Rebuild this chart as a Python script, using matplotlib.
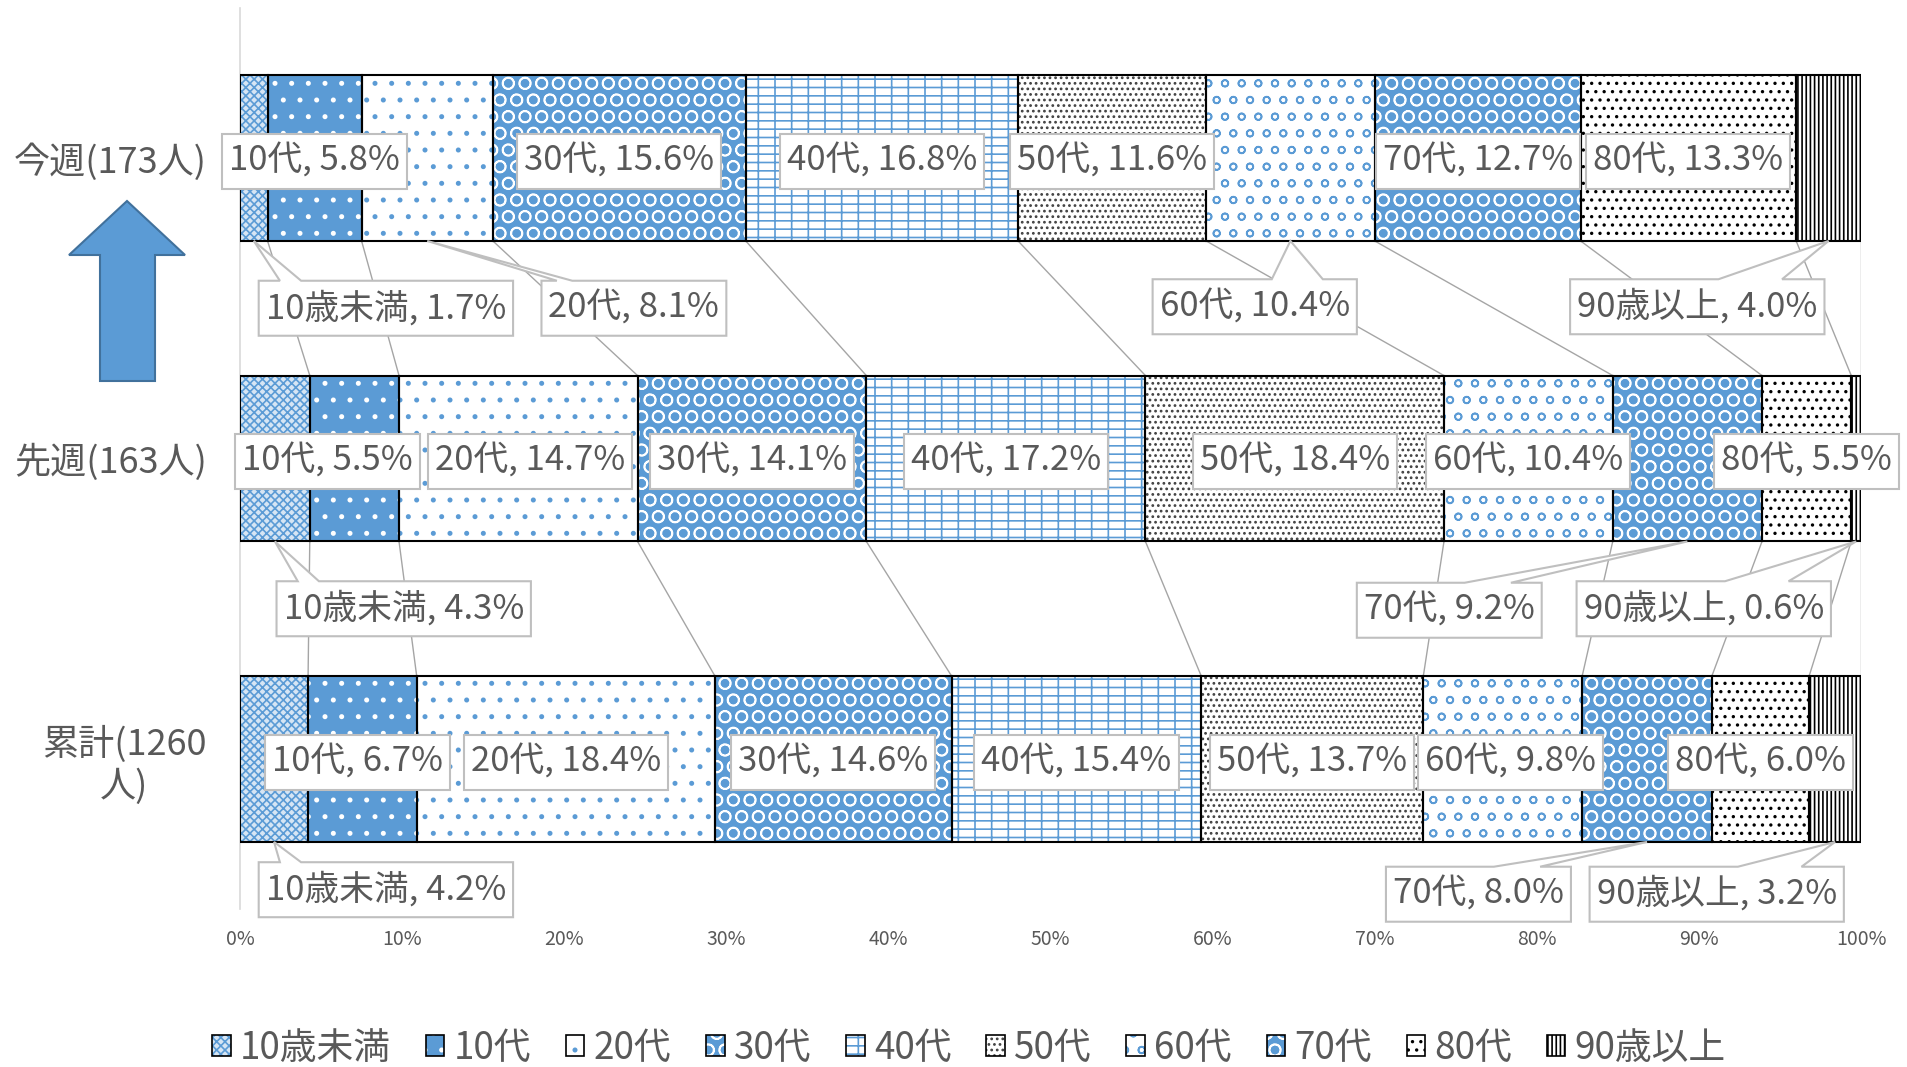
import numpy as np
import matplotlib
matplotlib.use('Agg')
import matplotlib.pyplot as plt
from matplotlib.patches import Polygon, Patch
from matplotlib.legend_handler import HandlerTuple

plt.rcParams['font.family'] = ['Noto Sans CJK JP', 'DejaVu Sans']
plt.rcParams['hatch.linewidth'] = 1.2

# ---------------- data ----------------
rows = ['今週(173人)', '先週(163人)', '累計(1260\n人)']
ages = ['10歳未満', '10代', '20代', '30代', '40代', '50代', '60代', '70代', '80代', '90歳以上']
this_week = [1.7, 5.8, 8.1, 15.6, 16.8, 11.6, 10.4, 12.7, 13.3, 4.0]
last_week = [4.3, 5.5, 14.7, 14.1, 17.2, 18.4, 10.4, 9.2, 5.5, 0.6]
total = [4.2, 6.7, 18.4, 14.6, 15.4, 13.7, 9.8, 8.0, 6.0, 3.2]
x_ticks = [0, 10, 20, 30, 40, 50, 60, 70, 80, 90, 100]

# ---------------- styles ----------------
BLUE = '#5B9BD5'
GRAY_TXT = '#595959'
BOX_EDGE = '#BFBFBF'
LABEL_FS = 25
# (face, hatch, hatch colour) per age group
styles = [
    ('#d6e5f4', 'xxxx', BLUE),
    (BLUE, '.', 'white'),
    ('white', '.', BLUE),
    (BLUE, 'O', 'white'),
    ('white', '--|', BLUE),
    ('white', '...', '#404040'),
    ('white', 'o', BLUE),
    (BLUE, 'O', 'white'),
    ('white', '..', 'black'),
    ('white', '||||', 'black'),
]

# labels that sit outside the bar as callouts: (row, age) -> (x centre in %, offset below bar centre)
callouts = {
    (0, 0): (9.0, 0.49), (0, 2): (24.3, 0.49), (0, 6): (62.6, 0.485), (0, 9): (89.9, 0.485),
    (1, 0): (10.1, 0.49), (1, 7): (74.6, 0.495), (1, 9): (90.3, 0.49),
    (2, 0): (9.0, 0.425), (2, 7): (76.4, 0.44), (2, 9): (91.1, 0.44),
}
# small horizontal nudges for inside labels (in %)
nudges = {(1, 1): -1.65, (1, 2): 0.7, (2, 1): -0.3, (2, 6): 0.5}

W, H = 1907, 1067
fig = plt.figure(figsize=(W / 100, H / 100), dpi=100)
ax = fig.add_axes([240 / W, 1 - 909.25 / H, 1621 / W, 901.5 / H])

shares = np.array([this_week, last_week, total])
norm = shares / shares.sum(axis=1, keepdims=True) * 100
cum = np.hstack([np.zeros((3, 1)), np.cumsum(norm, axis=1)])
ypos = np.arange(3)
bh = 0.552

handles = []
for j, age in enumerate(ages):
    face, hatch, hcol = styles[j]
    ax.barh(ypos, norm[:, j], left=cum[:, j], height=bh, color=face,
            edgecolor=hcol, hatch=hatch, linewidth=0, zorder=2)
    ax.barh(ypos, norm[:, j], left=cum[:, j], height=bh, facecolor='none',
            edgecolor='black', linewidth=1.5, zorder=3)
    handles.append((Patch(facecolor=face, edgecolor=hcol, hatch=hatch, linewidth=0),
                    Patch(facecolor='none', edgecolor='black', linewidth=1.2)))

# series lines between the bars
for g in range(2):
    for j in range(1, 11):
        ax.plot([cum[g, j], cum[g + 1, j]], [g + bh / 2, g + 1 - bh / 2],
                color='#A5A5A5', lw=1.0, zorder=1)

ax.set_xlim(0, 100)
ax.set_ylim(2.5, -0.5)
for s in ['top', 'right', 'bottom']:
    ax.spines[s].set_visible(False)
ax.spines['left'].set_color('#D9D9D9')
ax.spines['left'].set_linewidth(1.2)
ax.set_xticks(x_ticks)
ax.set_xticklabels([f'{v}%' for v in x_ticks], fontsize=14, color=GRAY_TXT)
ax.set_yticks(ypos)
ax.set_yticklabels(rows, fontsize=26, color=GRAY_TXT, multialignment='center')
ax.tick_params(axis='x', length=0, pad=14)
ax.tick_params(axis='y', length=0, pad=24)

# labels
texts = []
for i in range(3):
    for j, age in enumerate(ages):
        label = f'{age}, {shares[i, j]:.1f}%'
        mid = cum[i, j] + norm[i, j] / 2
        if (i, j) in callouts:
            cx, dy = callouts[(i, j)]
            t = ax.text(cx, i + dy, label, ha='center', va='center', fontsize=LABEL_FS,
                        color=GRAY_TXT, zorder=6)
            texts.append((t, (mid, i + bh / 2)))
        else:
            t = ax.text(mid + nudges.get((i, j), 0), i, label, ha='center', va='center',
                        fontsize=LABEL_FS, color=GRAY_TXT, zorder=6)
            texts.append((t, None))

fig.canvas.draw()
renderer = fig.canvas.get_renderer()
padx, boxh = 7, 55
for t, apex in texts:
    bb = t.get_window_extent(renderer)
    cx, cy = (bb.x0 + bb.x1) / 2, (bb.y0 + bb.y1) / 2 - 3
    w = bb.width + 2 * padx
    l, r, b, tp = cx - w / 2, cx + w / 2, cy - boxh / 2, cy + boxh / 2
    pts = [(l, b), (l, tp)]
    if apex is not None:
        axp, ayp = ax.transData.transform(apex)
        f0, f1 = (1 / 12, 2 / 12) if axp < cx else (7 / 12, 10 / 12)
        pts += [(l + f0 * w, tp), (axp, ayp), (l + f1 * w, tp)]
    pts += [(r, tp), (r, b)]
    pts = np.array(pts) / [W, H]
    fig.add_artist(Polygon(pts, closed=True, facecolor='white', edgecolor=BOX_EDGE,
                           linewidth=1.5, transform=fig.transFigure, zorder=5))
    # keep the text above the box
    t.remove()
    fig.text(cx / W, cy / H, t.get_text(), ha='center', va='center', fontsize=LABEL_FS,
             color=GRAY_TXT, zorder=7)

# up arrow
arrow = np.array([(127, 201), (185, 255), (155, 255), (155, 381),
                  (100, 381), (100, 255), (69, 255)], dtype=float)
arrow[:, 1] = H - arrow[:, 1]
fig.add_artist(Polygon(arrow / [W, H], closed=True, facecolor=BLUE, edgecolor='#41719C',
                       linewidth=1.5, transform=fig.transFigure))

fig.legend(handles, ages, loc='center', bbox_to_anchor=(969 / W, 1 - 1048 / H), ncol=10,
           frameon=False, fontsize=26.5, labelcolor=GRAY_TXT, handlelength=0.5,
           handleheight=0.5, handletextpad=0.25, columnspacing=0.95,
           handler_map={tuple: HandlerTuple(ndivide=1)})

fig.savefig('out.png', dpi=100)
